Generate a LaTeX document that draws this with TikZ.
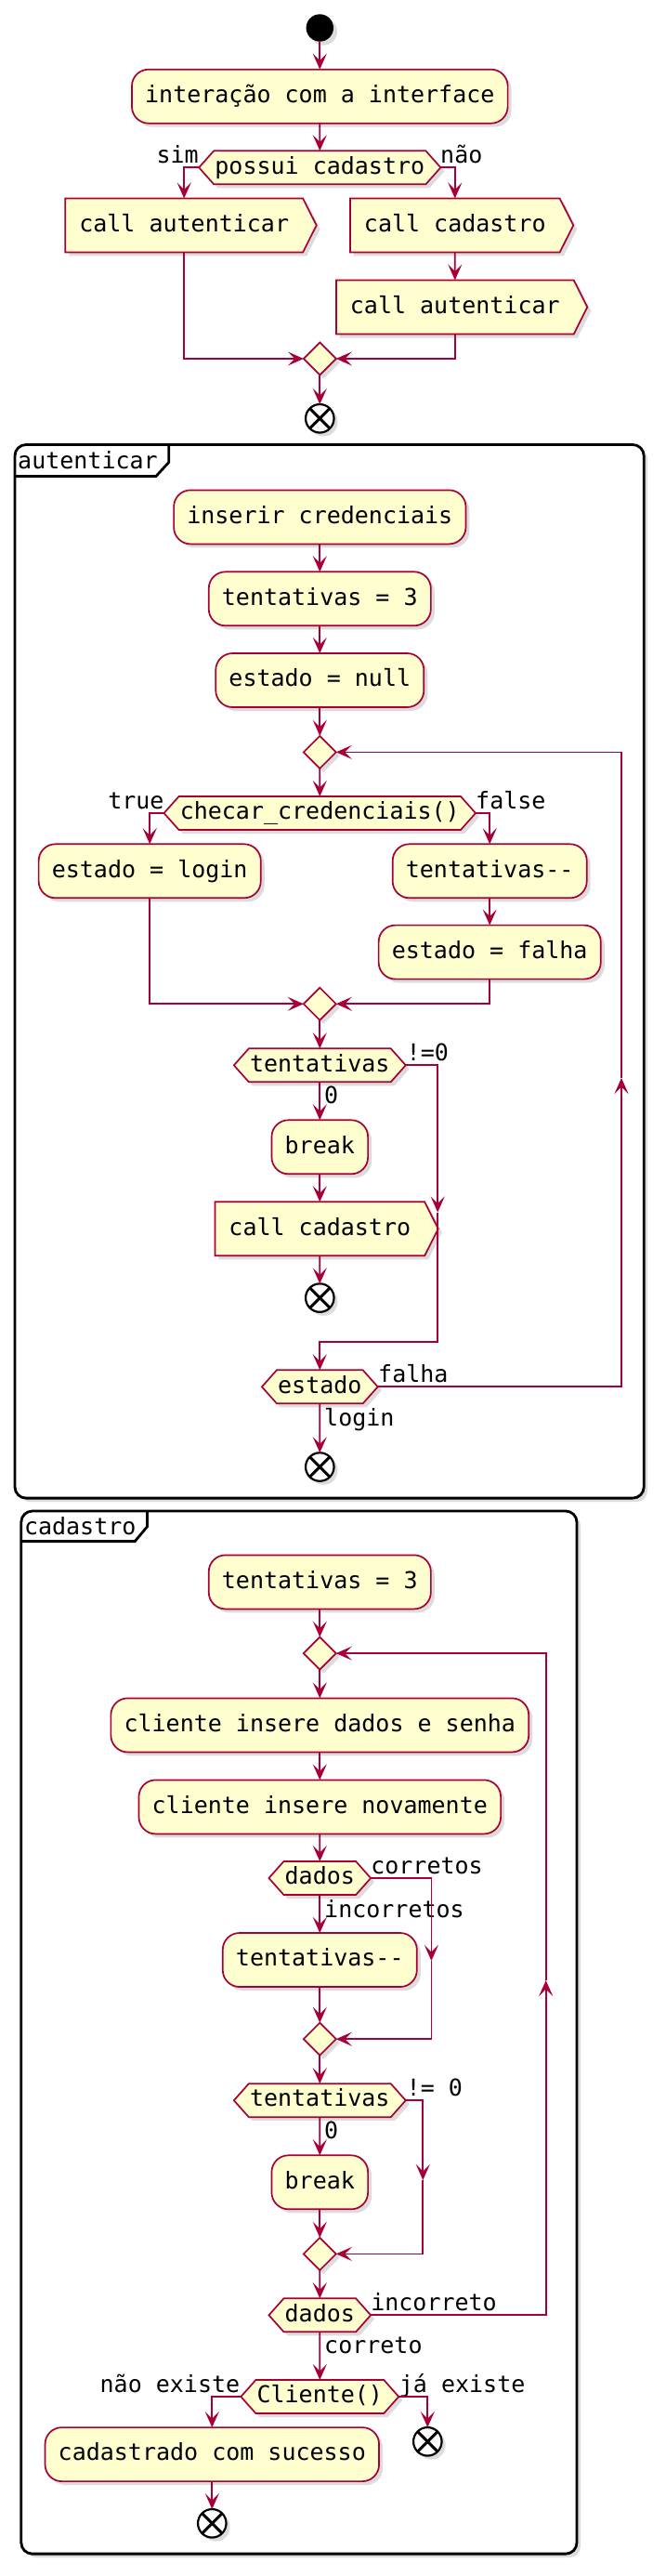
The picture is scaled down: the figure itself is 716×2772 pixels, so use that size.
\documentclass[tikz,border=0pt]{standalone}
\usepackage{fontspec}
\setmainfont{DejaVu Sans Mono}
\usetikzlibrary{arrows.meta,shapes.geometric,shapes.symbols,shadows}
\definecolor{umlfill}{HTML}{FEFECE}
\definecolor{umlline}{HTML}{A80036}
\tikzset{
  txt/.style={font=\fontsize{25}{30}\selectfont, text height=18.5pt, text depth=5pt},
  boxshadow/.style={drop shadow={shadow xshift=4pt, shadow yshift=-4pt, opacity=0.3, fill=black!45}},
  act/.style={txt, rectangle, rounded corners=18pt, draw=umlline, fill=umlfill, line width=1.7pt, inner xsep=14.2pt, inner ysep=17.25pt, outer sep=0pt, boxshadow},
  callbox/.style={txt, signal, signal to=east, signal from=nowhere, signal pointer angle=126.5, draw=umlline, fill=umlfill, line width=1.7pt, inner xsep=15pt, inner ysep=17.25pt, outer sep=0pt, boxshadow},
  decide/.style={txt, signal, signal to=east and west, signal pointer angle=96.7, draw=umlline, fill=umlfill, line width=1.7pt, inner xsep=1.2pt, inner ysep=6.25pt, outer sep=0pt, boxshadow},
  mergept/.style={diamond, draw=umlline, fill=umlfill, line width=1.7pt, minimum width=35pt, minimum height=35pt, inner sep=0pt, outer sep=0pt, boxshadow},
  startdot/.style={circle, fill=black, minimum size=29.4pt, inner sep=0pt, outer sep=0pt, boxshadow},
  enddot/.style={circle, draw=black, fill=white, line width=2.2pt, minimum size=30.5pt, inner sep=0pt, outer sep=0pt, boxshadow,
    path picture={\draw[line width=3pt] (path picture bounding box.north west) -- (path picture bounding box.south east) (path picture bounding box.north east) -- (path picture bounding box.south west);}},
  lbl/.style={txt, inner sep=0pt},
  flow/.style={draw=umlline, line width=1.7pt, -{Stealth[length=17pt, width=15pt, inset=7.5pt]}},
  grp/.style={draw=black, line width=2.8pt, fill=white, rounded corners=12pt, boxshadow},
  frametab/.style={draw=black, line width=2.8pt},
}
\begin{document}
\begin{tikzpicture}[x=1pt,y=-1pt]
    \fill[white] (0,0) rectangle (716,2772);
    \useasboundingbox (0,0) rectangle (716,2772);

    \draw[grp] (16,478.5) rectangle (693.2,1612.1);
    \draw[frametab] (16,512.5) -- (168,512.5) -- (181.7,497.5) -- (181.7,478.5);
    \node[lbl, anchor=base west] (fauth) at (19,504.5) {autenticar};
    \draw[grp] (22.8,1626) rectangle (621,2748.1);
    \draw[frametab] (22.8,1658.6) -- (145.2,1658.6) -- (158.4,1642.9) -- (158.4,1626);
    \node[lbl, anchor=base west] (fcad) at (25.8,1651) {cadastro};

    \node[startdot] (start) at (344.3,30) {};
    \node[act] (ui) at (344.3,103.7) {interação com a interface};
    \node[decide] (hasacc) at (344.3,180.3) {possui cadastro};
    \node[callbox] (callauth1) at (198.2,242.5) {call autenticar};
    \node[callbox] (callreg) at (489.8,242.5) {call cadastro};
    \node[callbox] (callauth2) at (489.8,330.5) {call autenticar};
    \node[mergept] (join1) at (344.3,386) {};
    \node[enddot] (end1) at (344.3,450.3) {};
    \node[lbl, anchor=base east] (lsim) at (214,175.3) {sim};
    \node[lbl, anchor=base west] (lnao) at (474,175.3) {não};

    \node[act] (creds) at (344.3,556.4) {inserir credenciais};
    \node[act] (tries1) at (344.3,644.3) {tentativas = 3};
    \node[act] (statenull) at (344.3,732) {estado = null};
    \node[mergept] (loop1) at (344.3,809.4) {};
    \node[decide] (check) at (344.3,875) {checar\_credenciais()};
    \node[act] (statelogin) at (161.2,937.3) {estado = login};
    \node[act] (dec1) at (527.2,937.3) {tentativas{-}{-}};
    \node[act] (statefail) at (527.2,1024.6) {estado = falha};
    \node[mergept] (join2) at (344.3,1080.3) {};
    \node[decide] (triesq1) at (344.3,1146.3) {tentativas};
    \node[act] (break1) at (344.3,1234.3) {break};
    \node[callbox] (callreg2) at (344.3,1322.3) {call cadastro};
    \node[enddot] (end2) at (344.3,1396.6) {};
    \node[decide] (stateq) at (344.3,1492.3) {estado};
    \node[enddot] (end3) at (344.3,1578.5) {};
    \node[lbl, anchor=base east] (ltrue) at (176.7,870) {true};
    \node[lbl, anchor=base west] (lfalse) at (512,870) {false};
    \node[lbl, anchor=base west] (lne1) at (437.5,1141.3) {!=0};
    \node[lbl, anchor=base west] (lzero1) at (349,1187.8) {0};
    \node[lbl, anchor=base west] (lfail) at (407,1487.3) {falha};
    \node[lbl, anchor=base west] (llogin) at (349,1534.6) {login};
    \coordinate (skip1) at (471.2,1304.5);
    \coordinate (skip1b) at (471.2,1444);
    \coordinate (back1) at (669,1160);

    \node[act] (tries2) at (344.3,1702.4) {tentativas = 3};
    \node[mergept] (loop2) at (344.3,1779.1) {};
    \node[act] (input1) at (344.3,1856.4) {cliente insere dados e senha};
    \node[act] (input2) at (344.3,1944.4) {cliente insere novamente};
    \node[decide] (dataq1) at (344.3,2021) {dados};
    \node[act] (dec2) at (344.3,2109) {tentativas{-}{-}};
    \node[mergept] (join3) at (344.3,2194.2) {};
    \node[decide] (triesq2) at (344.3,2260.2) {tentativas};
    \node[act] (break2) at (344.3,2348.3) {break};
    \node[mergept] (join4) at (344.3,2425.4) {};
    \node[decide] (dataq2) at (344.3,2491.3) {dados};
    \node[decide] (client) at (344.3,2579) {Cliente()};
    \node[act] (done) at (228.3,2641.1) {cadastrado com sucesso};
    \node[enddot] (end4) at (460.3,2627.3) {};
    \node[enddot] (end5) at (228.3,2715.3) {};
    \node[lbl, anchor=base west] (lok1) at (399.1,2016) {corretos};
    \node[lbl, anchor=base west] (lbad1) at (349,2063) {incorretos};
    \node[lbl, anchor=base west] (lne2) at (437.5,2255.2) {!= 0};
    \node[lbl, anchor=base west] (lzero2) at (349,2301.8) {0};
    \node[lbl, anchor=base west] (lbad2) at (399.1,2486.3) {incorreto};
    \node[lbl, anchor=base west] (lok2) at (349,2532.9) {correto};
    \node[lbl, anchor=base east] (lnew) at (258.4,2574) {não existe};
    \node[lbl, anchor=base west] (lold) at (429.7,2574) {já existe};
    \coordinate (skip2) at (464.4,2110);
    \coordinate (skip3) at (455.3,2346);
    \coordinate (back2) at (587.7,2131);

    \draw[flow] (start) -- (ui);
    \draw[flow] (ui) -- (hasacc);
    \draw[flow] (hasacc.west) -| (callauth1.north);
    \draw[flow] (hasacc.east) -| (callreg.north);
    \draw[flow] (callreg) -- (callauth2);
    \draw[flow] (callauth1.south) |- (join1.west);
    \draw[flow] (callauth2.south) |- (join1.east);
    \draw[flow] (join1) -- (end1);

    \draw[flow] (creds) -- (tries1);
    \draw[flow] (tries1) -- (statenull);
    \draw[flow] (statenull) -- (loop1);
    \draw[flow] (loop1) -- (check);
    \draw[flow] (check.west) -| (statelogin.north);
    \draw[flow] (check.east) -| (dec1.north);
    \draw[flow] (dec1) -- (statefail);
    \draw[flow] (statelogin.south) |- (join2.west);
    \draw[flow] (statefail.south) |- (join2.east);
    \draw[flow] (join2) -- (triesq1);
    \draw[flow] (triesq1) -- (break1);
    \draw[flow] (break1) -- (callreg2);
    \draw[flow] (callreg2) -- (end2);
    \draw[flow] (triesq1.east) -| (skip1);
    \draw[flow] (skip1) -- (skip1b) -| (stateq.north);
    \draw[flow] (stateq.east) -| (back1);
    \draw[flow] (back1) |- (loop1.east);
    \draw[flow] (stateq) -- (end3);

    \draw[flow] (tries2) -- (loop2);
    \draw[flow] (loop2) -- (input1);
    \draw[flow] (input1) -- (input2);
    \draw[flow] (input2) -- (dataq1);
    \draw[flow] (dataq1) -- (dec2);
    \draw[flow] (dataq1.east) -| (skip2);
    \draw[flow] (skip2) |- (join3.east);
    \draw[flow] (dec2) -- (join3);
    \draw[flow] (join3) -- (triesq2);
    \draw[flow] (triesq2) -- (break2);
    \draw[flow] (triesq2.east) -| (skip3);
    \draw[flow] (skip3) |- (join4.east);
    \draw[flow] (break2) -- (join4);
    \draw[flow] (join4) -- (dataq2);
    \draw[flow] (dataq2.east) -| (back2);
    \draw[flow] (back2) |- (loop2.east);
    \draw[flow] (dataq2) -- (client);
    \draw[flow] (client.west) -| (done.north);
    \draw[flow] (client.east) -| (end4.north);
    \draw[flow] (done) -- (end5);
\end{tikzpicture}
\end{document}
